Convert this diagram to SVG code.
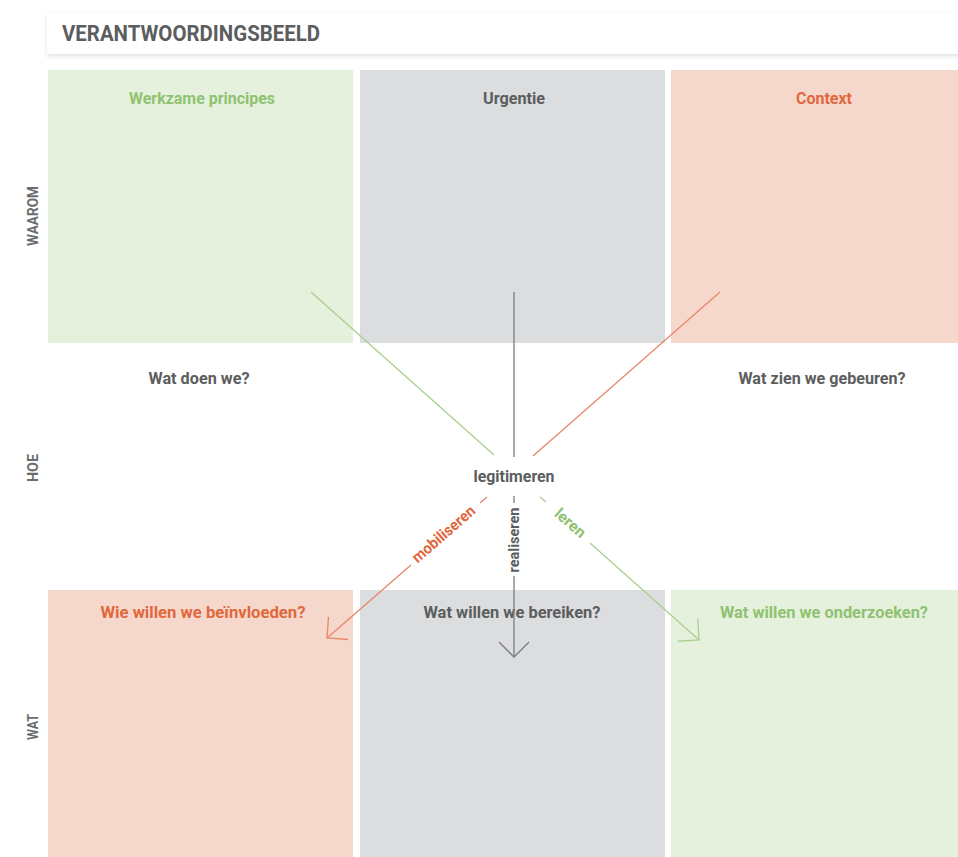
<svg xmlns="http://www.w3.org/2000/svg" width="958" height="857" viewBox="0 0 958 857">
<defs>
<style>
text{font-family:"Liberation Sans Narrow","Roboto","Liberation Sans",sans-serif;font-weight:bold;}
.t{font-size:16.5px;text-anchor:middle;}
.gray{fill:#5b5d5e;}
.green{fill:#8fc271;}
.orange{fill:#e0683d;}
.row{font-size:15px;fill:#6a6c6d;text-anchor:middle;}
.ln{fill:none;stroke-width:1.3;}
</style>
<filter id="sh" x="-5%" y="-30%" width="110%" height="170%">
<feDropShadow dx="0" dy="2" stdDeviation="2" flood-color="#000" flood-opacity="0.12"/>
</filter>
<marker id="ao" viewBox="0 0 30 32" refX="28" refY="16" markerWidth="30" markerHeight="32" markerUnits="userSpaceOnUse" orient="auto"><path d="M13,1 L28,16 L13,31" fill="none" stroke="#e8876a" stroke-width="1.3"/></marker>
<marker id="ag" viewBox="0 0 30 32" refX="28" refY="16" markerWidth="30" markerHeight="32" markerUnits="userSpaceOnUse" orient="auto"><path d="M13,1 L28,16 L13,31" fill="none" stroke="#a9cf8f" stroke-width="1.3"/></marker>
<marker id="ak" viewBox="0 0 30 32" refX="28" refY="16" markerWidth="30" markerHeight="32" markerUnits="userSpaceOnUse" orient="auto"><path d="M13,1 L28,16 L13,31" fill="none" stroke="#7a7c7d" stroke-width="1.3"/></marker>
</defs>
<rect width="958" height="857" fill="#ffffff"/>

<g id="header">
<rect x="47" y="13" width="915" height="41" fill="#ffffff" filter="url(#sh)"/>
<text x="62" y="41" font-size="22" fill="#5b5d5e" textLength="258" lengthAdjust="spacingAndGlyphs">VERANTWOORDINGSBEELD</text>
</g>

<g id="row-labels">
<text class="row" transform="translate(38,216) rotate(-90)" textLength="60" lengthAdjust="spacingAndGlyphs">WAAROM</text>
<text class="row" transform="translate(38,468) rotate(-90)" textLength="28" lengthAdjust="spacingAndGlyphs">HOE</text>
<text class="row" transform="translate(38,727) rotate(-90)" textLength="26" lengthAdjust="spacingAndGlyphs">WAT</text>
</g>

<g id="werkzame-principes">
<rect x="48" y="70" width="305" height="273" fill="#e6f1dd"/>
<text class="t green" x="202" y="104" textLength="146" lengthAdjust="spacingAndGlyphs">Werkzame principes</text>
</g>
<g id="urgentie">
<rect x="360" y="70" width="305" height="273" fill="#dcdddf"/>
<text class="t gray" x="514" y="104" textLength="62" lengthAdjust="spacingAndGlyphs">Urgentie</text>
</g>
<g id="context">
<rect x="671" y="70" width="287" height="273" fill="#f6d7cc"/>
<text class="t orange" x="824" y="104" textLength="56" lengthAdjust="spacingAndGlyphs">Context</text>
</g>

<g id="wat-doen-we">
<text class="t gray" x="199" y="384" textLength="101" lengthAdjust="spacingAndGlyphs">Wat doen we?</text>
</g>
<g id="wat-zien-we-gebeuren">
<text class="t gray" x="822" y="384" textLength="167" lengthAdjust="spacingAndGlyphs">Wat zien we gebeuren?</text>
</g>

<g id="legitimeren">
<text class="t gray" x="514" y="482" textLength="81" lengthAdjust="spacingAndGlyphs">legitimeren</text>
</g>

<g id="wie-willen-we-beinvloeden">
<rect x="48" y="590" width="305" height="267" fill="#f6d7cc"/>
<text class="t orange" x="203" y="618" textLength="205" lengthAdjust="spacingAndGlyphs">Wie willen we beïnvloeden?</text>
</g>
<g id="wat-willen-we-bereiken">
<rect x="360" y="590" width="305" height="267" fill="#dcdddf"/>
<text class="t gray" x="512" y="618" textLength="177" lengthAdjust="spacingAndGlyphs">Wat willen we bereiken?</text>
</g>
<g id="wat-willen-we-onderzoeken">
<rect x="671" y="590" width="287" height="267" fill="#e6f1dd"/>
<text class="t green" x="824" y="618" textLength="208" lengthAdjust="spacingAndGlyphs">Wat willen we onderzoeken?</text>
</g>

<g id="connectors">
<line class="ln" x1="311" y1="292" x2="494" y2="455" stroke="#a9cf8f"/>
<line class="ln" x1="514" y1="292" x2="514" y2="457" stroke="#7a7c7d"/>
<line class="ln" x1="720" y1="292" x2="533" y2="456" stroke="#e8876a"/>

<line class="ln" x1="487" y1="497" x2="480" y2="503" stroke="#e8876a"/>
<line class="ln" x1="411" y1="565" x2="327" y2="638" stroke="#e8876a" marker-end="url(#ao)"/>
<text class="orange" font-size="15.5" text-anchor="middle" transform="translate(447,538) rotate(-41)" textLength="78" lengthAdjust="spacingAndGlyphs">mobiliseren</text>

<line class="ln" x1="514" y1="496" x2="514" y2="503" stroke="#7a7c7d"/>
<line class="ln" x1="514" y1="576" x2="514" y2="657" stroke="#7a7c7d" marker-end="url(#ak)"/>
<text class="gray" font-size="15.5" text-anchor="middle" transform="translate(519,540) rotate(-90)" textLength="65" lengthAdjust="spacingAndGlyphs">realiseren</text>

<line class="ln" x1="540" y1="497" x2="546" y2="502" stroke="#a9cf8f"/>
<line class="ln" x1="590" y1="543" x2="699" y2="640" stroke="#a9cf8f" marker-end="url(#ag)"/>
<text class="green" font-size="15.5" text-anchor="middle" transform="translate(567,527) rotate(41)" textLength="36" lengthAdjust="spacingAndGlyphs">leren</text>
</g>
</svg>
